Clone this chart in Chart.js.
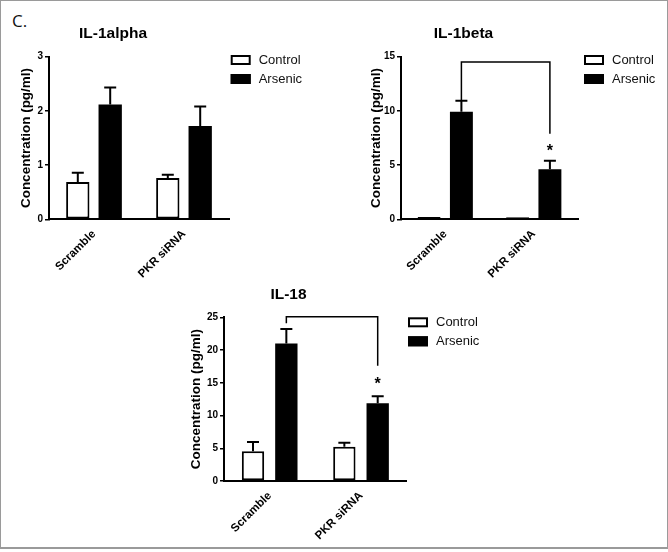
<!DOCTYPE html>
<html>
<head>
<meta charset="utf-8">
<script src="https://cdn.jsdelivr.net/npm/chart.js@4"></script>
<style>
html, body { margin: 0; padding: 0; background: #fff; }
#frame { position: absolute; left: 0; top: 0; width: 666px; height: 546px; border: 1px solid #9a9a9a; border-bottom-width: 2px; border-right-width: 2px; }
canvas { position: absolute; }
#tag { position: absolute; left: 12px; top: 10px; font: 17px 'Open Sans', 'DejaVu Sans', sans-serif; line-height: 22px; color: #111; }
</style>
</head>
<body>
<div id="frame"></div>
<div id="tag">C.</div>
<canvas id="c1"></canvas>
<canvas id="c2"></canvas>
<canvas id="c3"></canvas>
<script>
// ---------- data ----------
const categories = ['Scramble', 'PKR siRNA'];
const seriesNames = ['Control', 'Arsenic'];
const yTitle = 'Concentration (pg/ml)';

const alphaTitle = 'IL-1alpha';
const alphaTicks = [0, 1, 2, 3];
const alphaControl = [0.69, 0.76];
const alphaControlErr = [0.17, 0.06];
const alphaArsenic = [2.12, 1.72];
const alphaArsenicErr = [0.31, 0.36];

const betaTitle = 'IL-1beta';
const betaTicks = [0, 5, 10, 15];
const betaControl = [0.22, 0.20];
const betaControlErr = [0, 0];
const betaArsenic = [9.93, 4.61];
const betaArsenicErr = [1.01, 0.79];
const betaBracket = [14.5, 11.0, 7.9];   // top, left leg end, right leg end
const betaStar = [6.7];

const il18Title = 'IL-18';
const il18Ticks = [0, 5, 10, 15, 20, 25];
const il18Control = [4.53, 5.24];
const il18ControlErr = [1.42, 0.61];
const il18Arsenic = [21.0, 11.86];
const il18ArsenicErr = [2.2, 1.07];
const il18Bracket = [25.1, 24.1, 17.6];
const il18Star = [15.4];

// ---------- layout / style ----------
const FONT = "'Liberation Sans', Arial, Helvetica, sans-serif";
const panels = [
  { id: 'c1', canvas: [0, 0, 330, 290], plot: [49, 229, 56.7, 219.3], yTitleX: 26.5, titlePos: [113, 33], legendPos: [230.7, 55],
    title: alphaTitle, ticks: alphaTicks, control: alphaControl, controlErr: alphaControlErr, arsenic: alphaArsenic, arsenicErr: alphaArsenicErr,
    bracket: null, star: null, cp: 0.72, bp: 0.72 },
  { id: 'c2', canvas: [334, 0, 332, 290], plot: [401, 578, 56.7, 219.3], yTitleX: 376, titlePos: [463.5, 33], legendPos: [584, 55],
    title: betaTitle, ticks: betaTicks, control: betaControl, controlErr: betaControlErr, arsenic: betaArsenic, arsenicErr: betaArsenicErr,
    bracket: betaBracket, star: betaStar, cp: 0.73, bp: 0.71 },
  { id: 'c3', canvas: [150, 275, 360, 271], plot: [224, 406.7, 317.3, 481], yTitleX: 196, titlePos: [288.5, 294], legendPos: [408, 317.3],
    title: il18Title, ticks: il18Ticks, control: il18Control, controlErr: il18ControlErr, arsenic: il18Arsenic, arsenicErr: il18ArsenicErr,
    bracket: il18Bracket, star: il18Star, cp: 0.73, bp: 0.67 }
];

function makeChart(p) {
  const [cx, cy, cw, ch] = p.canvas;
  const [L, R, T, B] = p.plot;
  const canvas = document.getElementById(p.id);
  canvas.style.left = cx + 'px';
  canvas.style.top = cy + 'px';
  canvas.width = cw;
  canvas.height = ch;
  canvas.style.width = cw + 'px';
  canvas.style.height = ch + 'px';
  const titleSize = 13.5;
  const padLeft = p.yTitleX - cx - titleSize * 1.2 / 2;
  const yW = L - cx - padLeft;
  const xH = cy + ch - B - 2;

  const deco = {
    id: 'deco' + p.id,
    afterDatasetsDraw(chart) {
      const ctx = chart.ctx;
      const ys = chart.scales.y;
      ctx.save();
      // error bars (upper only)
      chart.data.datasets.forEach((ds, i) => {
        const meta = chart.getDatasetMeta(i);
        meta.data.forEach((bar, j) => {
          const e = ds.err[j];
          if (!e) return;
          const y0 = ys.getPixelForValue(ds.data[j]);
          const y1 = ys.getPixelForValue(ds.data[j] + e);
          ctx.strokeStyle = '#000';
          ctx.lineWidth = 2;
          ctx.beginPath();
          ctx.moveTo(bar.x, y0);
          ctx.lineTo(bar.x, y1);
          ctx.moveTo(bar.x - 6, y1);
          ctx.lineTo(bar.x + 6, y1);
          ctx.stroke();
        });
      });
      ctx.restore();
    },
    afterDraw(chart) {
      const ctx = chart.ctx;
      const ys = chart.scales.y;
      ctx.save();
      // panel title
      ctx.fillStyle = '#000';
      ctx.font = 'bold 15.5px ' + FONT;
      ctx.textAlign = 'center';
      ctx.textBaseline = 'middle';
      ctx.fillText(p.title, p.titlePos[0] - cx, p.titlePos[1] - cy + 1);
      // legend
      chart.data.datasets.forEach((ds, i) => {
        const bx = p.legendPos[0] - cx;
        const by = p.legendPos[1] - cy + i * 19;
        ctx.fillStyle = ds.backgroundColor;
        ctx.fillRect(bx, by, 20, 10);
        ctx.strokeStyle = '#000';
        ctx.lineWidth = 2;
        ctx.strokeRect(bx + 1, by + 1, 18, 8);
        ctx.fillStyle = '#111';
        ctx.font = '13px ' + FONT;
        ctx.textAlign = 'left';
        ctx.textBaseline = 'middle';
        ctx.fillText(ds.label, bx + 28, by + 5.5);
      });
      // significance bracket
      if (p.bracket) {
        const m = chart.getDatasetMeta(1).data;
        const xl = m[0].x, xr = m[1].x;
        const yt = ys.getPixelForValue(p.bracket[0]);
        ctx.strokeStyle = '#000';
        ctx.lineWidth = 1.5;
        ctx.beginPath();
        ctx.moveTo(xl, ys.getPixelForValue(p.bracket[1]));
        ctx.lineTo(xl, yt);
        ctx.lineTo(xr, yt);
        ctx.lineTo(xr, ys.getPixelForValue(p.bracket[2]));
        ctx.stroke();
        ctx.fillStyle = '#000';
        ctx.font = 'bold 16px ' + FONT;
        ctx.textAlign = 'center';
        ctx.textBaseline = 'alphabetic';
        ctx.fillText('*', xr, ys.getPixelForValue(p.star[0]) + 0.57 * 16);
      }
      ctx.restore();
    }
  };

  return new Chart(canvas, {
    type: 'bar',
    data: {
      labels: categories,
      datasets: [
        { label: seriesNames[0], data: p.control, err: p.controlErr, backgroundColor: '#ffffff', borderColor: '#000000',
          borderWidth: 2, borderSkipped: false, categoryPercentage: p.cp, barPercentage: p.bp },
        { label: seriesNames[1], data: p.arsenic, err: p.arsenicErr, backgroundColor: '#000000', borderColor: '#000000',
          borderWidth: 0, borderSkipped: false, categoryPercentage: p.cp, barPercentage: p.bp }
      ]
    },
    options: {
      responsive: false,
      animation: false,
      devicePixelRatio: 1,
      layout: { padding: { left: padLeft, top: T - cy, right: cx + cw - R, bottom: cy + ch - B - xH } },
      plugins: { legend: { display: false }, tooltip: { enabled: false }, title: { display: false } },
      scales: {
        x: {
          grid: { display: false },
          border: { display: true, color: '#000', width: 2 },
          ticks: { color: '#000', font: { family: FONT, size: 11.5, weight: 'bold' }, minRotation: 45, maxRotation: 45, padding: 0 },
          afterFit: s => { s.height = xH; }
        },
        y: {
          min: p.ticks[0],
          max: p.ticks[p.ticks.length - 1],
          afterBuildTicks: s => { s.ticks = p.ticks.map(v => ({ value: v })); },
          grid: { display: true, drawOnChartArea: false, drawTicks: true, tickLength: 4, color: '#000', lineWidth: 1.5 },
          border: { display: true, color: '#000', width: 2 },
          ticks: { color: '#000', font: { family: FONT, size: 10, weight: 'bold' }, padding: 2 },
          title: { display: true, text: yTitle, color: '#000', font: { family: FONT, size: titleSize, weight: 'bold' }, padding: 0 },
          afterFit: s => { s.width = yW; }
        }
      }
    },
    plugins: [deco]
  });
}

panels.forEach(makeChart);
</script>
</body>
</html>
